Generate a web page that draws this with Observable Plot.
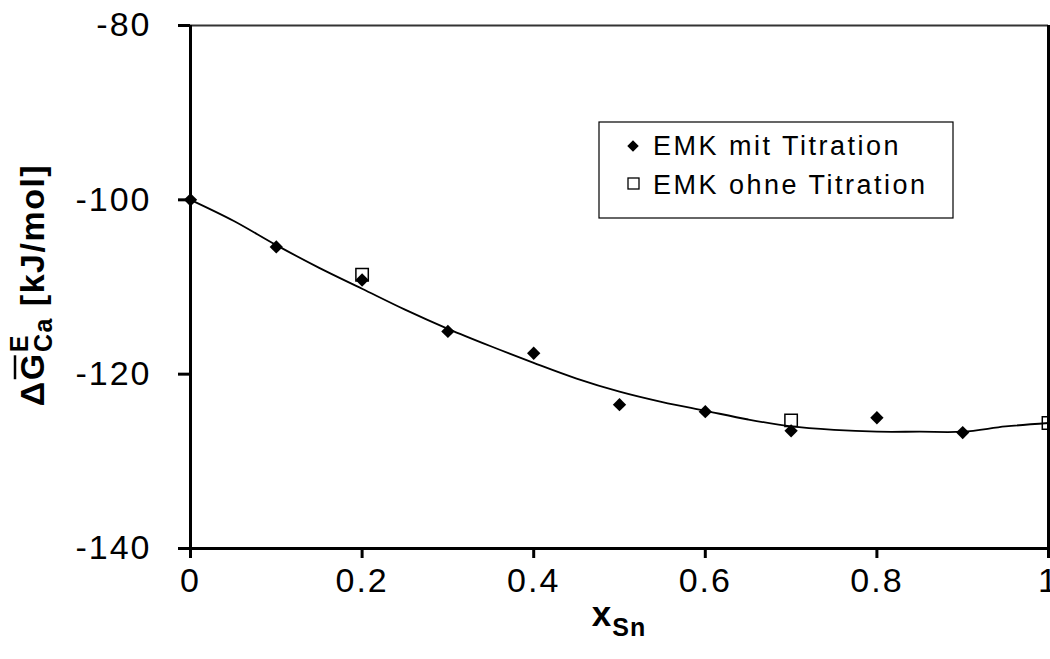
<!DOCTYPE html>
<html><head><meta charset="utf-8">
<script src="https://cdn.jsdelivr.net/npm/d3@7"></script>
<script src="https://cdn.jsdelivr.net/npm/@observablehq/plot@0.6"></script>
<style>
body{margin:0;background:#fff}
svg{font-family:"Liberation Sans",Arial,sans-serif}
</style>
</head><body><div id="chart"></div>
<script>
// Series: EMK mit Titration (filled diamonds)
const xMit = [0, 0.1, 0.2, 0.3, 0.4, 0.5, 0.6, 0.7, 0.8, 0.9];
const yMit = [-100, -105.4, -109.2, -115.1, -117.6, -123.5, -124.3, -126.5, -125.0, -126.7];
// Series: EMK ohne Titration (open squares)
const xOhne = [0.2, 0.7, 1.0];
const yOhne = [-108.6, -125.3, -125.6];
// Fitted curve
const xFit = [0, 0.05, 0.1, 0.15, 0.2, 0.25, 0.3, 0.35, 0.4, 0.45, 0.5, 0.55, 0.6, 0.65, 0.7, 0.75, 0.8, 0.85, 0.9, 0.95, 1.0];
const yFit = [-100, -102.4, -105.2, -107.8, -110.2, -112.6, -114.8, -116.8, -118.7, -120.5, -122.0, -123.2, -124.2, -125.2, -126.0, -126.4, -126.6, -126.6, -126.6, -126.0, -125.6];
const seriesNames = ["EMK mit Titration", "EMK ohne Titration"];
const yTicks = [-80, -100, -120, -140];
const xTicks = [0, 0.2, 0.4, 0.6, 0.8, 1];
const xTickLabels = ["0", "0.2", "0.4", "0.6", "0.8", "1"];
const yTickLabels = ["-80", "-100", "-120", "-140"];

const mit = xMit.map((x, i) => ({x, y: yMit[i]}));
const ohne = xOhne.map((x, i) => ({x, y: yOhne[i]}));
const fit = xFit.map((x, i) => ({x, y: yFit[i]}));

const chart = Plot.plot({
  width: 1050, height: 659,
  marginLeft: 190, marginRight: 2, marginTop: 25, marginBottom: 111,
  x: {domain: [0, 1]},
  y: {domain: [-140, -80]},
  style: {fontFamily: "Liberation Sans, Arial, sans-serif", background: "#fff", color: "#000", letterSpacing: "2px"},
  marks: [
    Plot.ruleY([-80], {stroke: "#333", strokeWidth: 2}),
    Plot.ruleX([1], {stroke: "#000", strokeWidth: 3}),
    Plot.axisY({ticks: yTicks, tickSize: 12, tickPadding: 27, fontSize: 34, strokeWidth: 3,
      tickFormat: d => yTickLabels[yTicks.indexOf(d)], label: null}),
    Plot.axisX({ticks: xTicks, tickSize: 10, tickPadding: 9, fontSize: 34, strokeWidth: 3,
      tickFormat: d => xTickLabels[xTicks.indexOf(d)], label: null}),
    Plot.line(fit, {x: "x", y: "y", stroke: "#000", strokeWidth: 1.8, curve: "catmull-rom"}),
    Plot.dot(ohne, {x: "x", y: "y", symbol: "square", r: 7, stroke: "#000", strokeWidth: 1.5, fill: "none", clip: true}),
    Plot.dot(mit, {x: "x", y: "y", symbol: "diamond2", r: 6, fill: "#000", stroke: "none"}),
    Plot.ruleX([0], {stroke: "#000", strokeWidth: 3}),
    Plot.ruleY([-140], {stroke: "#000", strokeWidth: 3})
  ]
});
document.getElementById("chart").appendChild(chart);

const svg = d3.select(chart);

// Legend
const lg = svg.append("g").style("letter-spacing", "2.5px").attr("text-anchor", "start");
lg.append("rect").attr("x", 599).attr("y", 122).attr("width", 354).attr("height", 96)
  .attr("fill", "#fff").attr("stroke", "#000").attr("stroke-width", 1.2);
lg.append("path").attr("d", d3.symbol(d3.symbolDiamond2, 85)()).attr("transform", "translate(633,146)").attr("fill", "#000");
lg.append("rect").attr("x", 628).attr("y", 178).attr("width", 11).attr("height", 11)
  .attr("fill", "none").attr("stroke", "#000").attr("stroke-width", 1.3);
lg.append("text").attr("x", 653).attr("y", 155).attr("font-size", 27).attr("text-anchor", "start").text(seriesNames[0]);
lg.append("text").attr("x", 653).attr("y", 194).attr("font-size", 27).attr("text-anchor", "start").text(seriesNames[1]);

// X axis title: x_Sn
const xt = svg.append("text").attr("x", 619).attr("y", 626).attr("text-anchor", "middle")
  .attr("font-weight", "bold").attr("font-size", 35).style("letter-spacing", "1px");
xt.append("tspan").text("x");
xt.append("tspan").attr("font-size", 25).attr("dy", 10).text("Sn");

// Y axis title: ΔG̅ᴱ_Ca [kJ/mol]
const yg = svg.append("g").attr("transform", "translate(44,285) rotate(-90)");
const yt = yg.append("text").attr("text-anchor", "middle").attr("font-weight", "bold")
  .attr("font-size", 34).style("letter-spacing", "1.5px");
yt.append("tspan").text("Δ");
yt.append("tspan").text("G");
yt.append("tspan").attr("font-size", 25).attr("dy", -16).text("E");
yt.append("tspan").attr("font-size", 25).attr("dx", -18).attr("dy", 24).text("Ca");
yt.append("tspan").attr("dy", -8).text(" [kJ/mol]");
const ext = yt.node().getExtentOfChar(1);
yg.append("line").attr("x1", ext.x + 1).attr("x2", ext.x + ext.width - 3)
  .attr("y1", ext.y + 2).attr("y2", ext.y + 2).attr("stroke", "#000").attr("stroke-width", 2.5);
</script>
</body></html>
